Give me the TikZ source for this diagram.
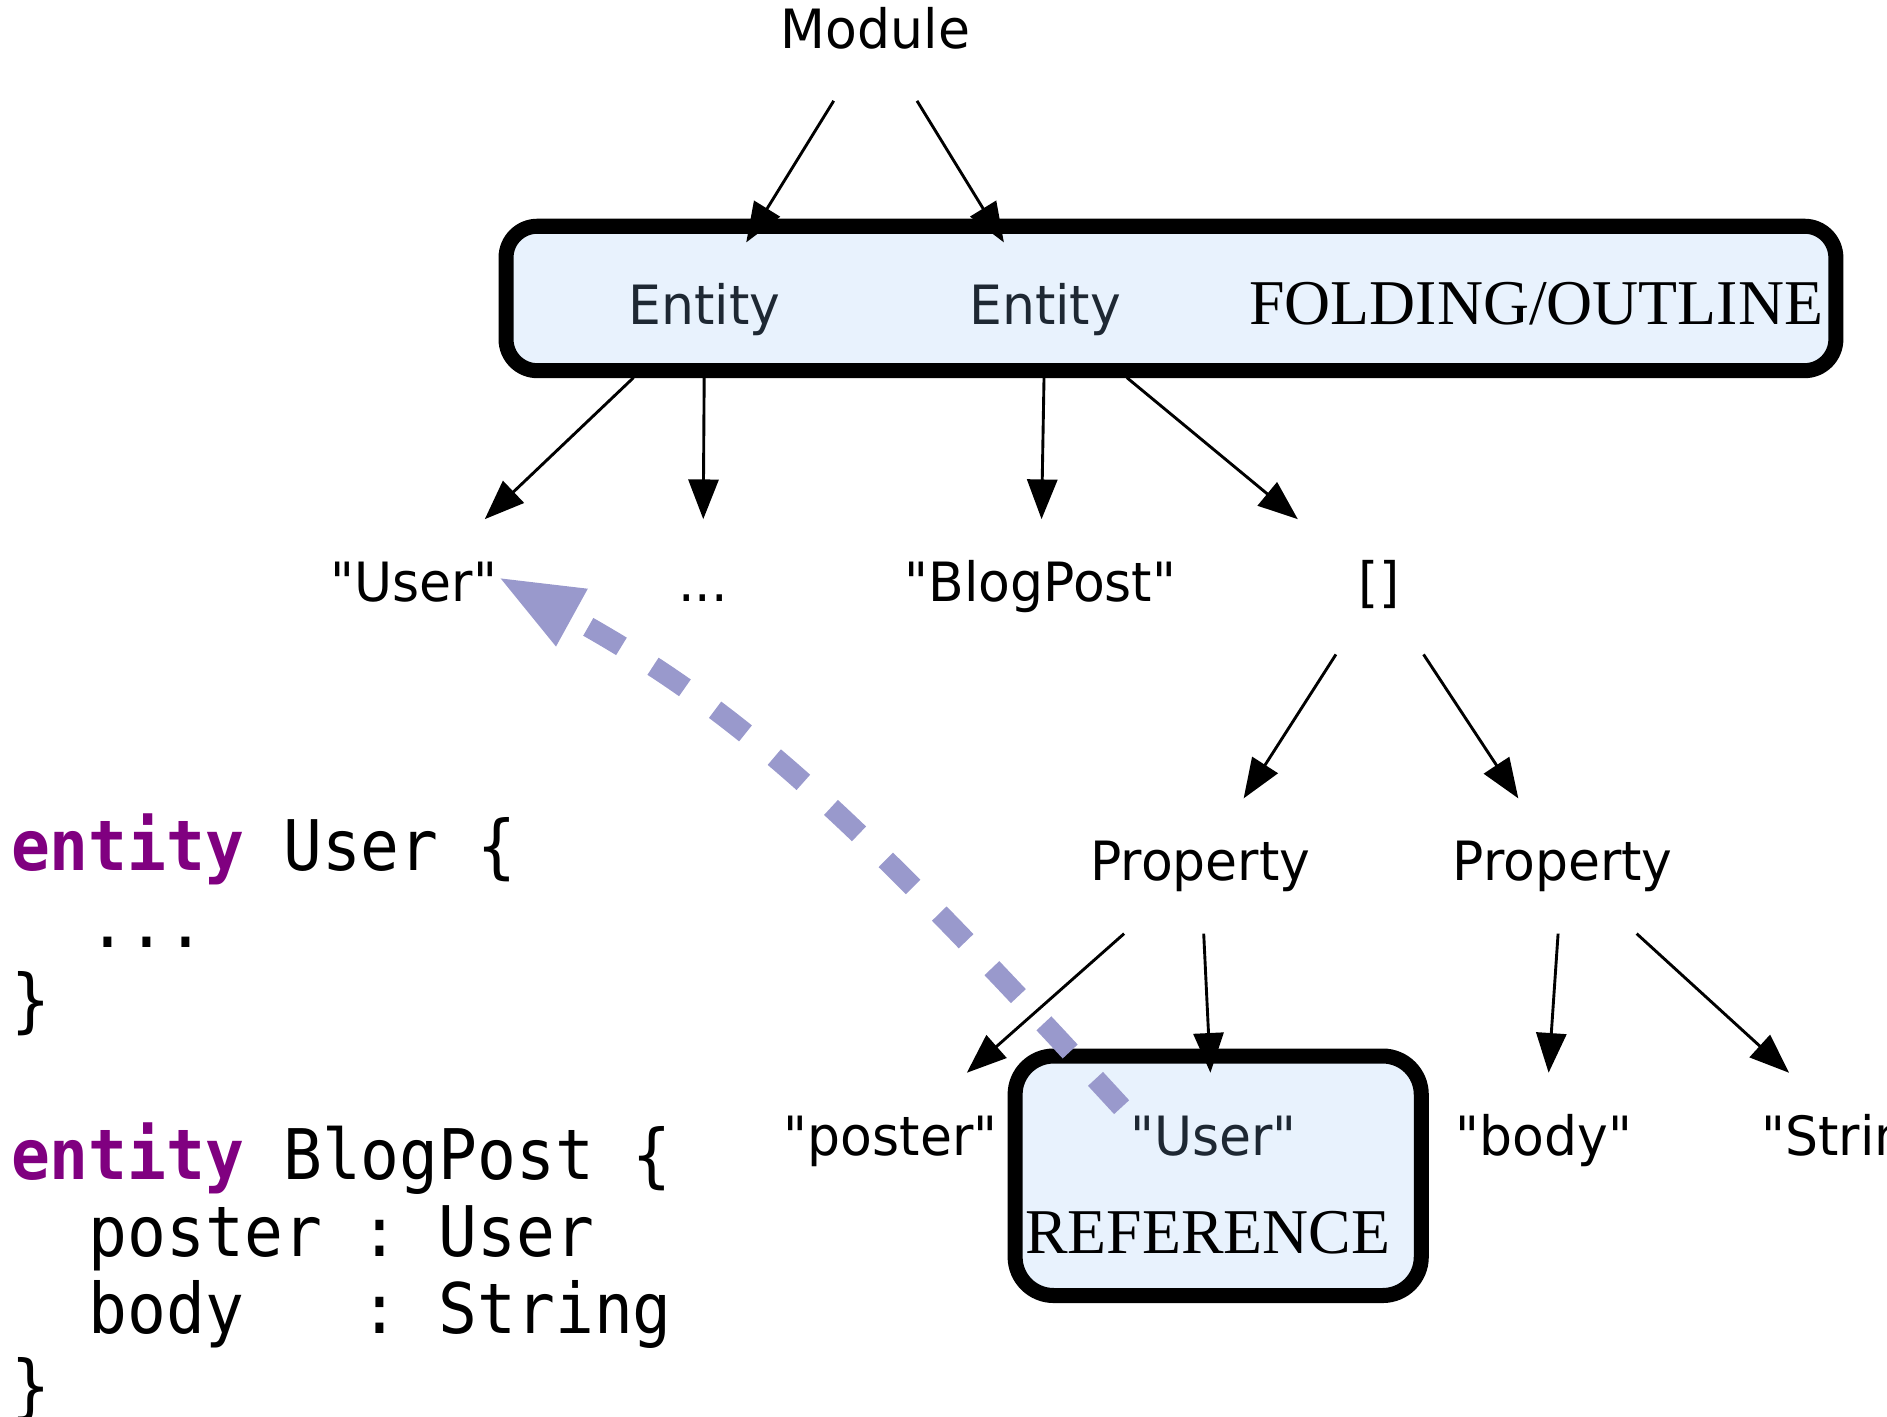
\documentclass[tikz,border=0pt]{standalone}
\usepackage{fontspec}
\usetikzlibrary{arrows.meta}
\newfontfamily\treefont[FakeStretch=0.96]{DejaVu Sans}
\newfontfamily\codefont[FakeStretch=0.925]{DejaVu Sans Mono}
\newfontfamily\tagfont{Liberation Serif}
\definecolor{boxfill}{HTML}{E8F2FD}
\definecolor{kwpurple}{HTML}{800080}
\definecolor{reflink}{HTML}{9999CC}
\definecolor{inktext}{HTML}{1E2833}
\newcommand\kw[1]{{\bfseries\color{kwpurple}#1}}
\newcommand\csp{\phantom{x}}

\begin{document}
\begin{tikzpicture}[x=1pt,y=-1pt,
  tn/.style={font=\treefont\fontsize{45pt}{54pt}\selectfont,
    text height=32.8pt, text depth=8pt, minimum height=112pt,
    minimum width=150pt, inner sep=0pt, anchor=base},
  tag/.style={font=\tagfont\fontsize{53pt}{60pt}\selectfont, inner sep=0pt, anchor=base},
  code/.style={font=\codefont\fontsize{58pt}{64pt}\selectfont, inner sep=0pt, anchor=base west},
  frame/.style={draw, line width=12.5pt, fill=boxfill, inner sep=0pt},
  edge/.style={-{Triangle[length=33pt,width=25pt]}, line width=2.4pt},
  reflinkstyle/.style={-{Triangle[length=71pt,width=49pt]}, draw=reflink,
    line width=17pt, dash pattern=on 32pt off 31pt}]

\useasboundingbox (0,0) rectangle (1568,1177);
\clip (0,0) rectangle (1568,1177);

% highlighted regions
\node (fold) [frame, rounded corners=26pt, minimum width=1105pt, minimum height=120pt] at (973,248) {};
\node (refbox) [frame, rounded corners=32pt, minimum width=337.5pt, minimum height=199pt] at (1012.25,977) {};

% syntax tree
\node (module) [tn] at (727.5,40) {Module};
\node (entA) [tn, text=inktext] at (585.5,270) {Entity};
\node (entB) [tn, text=inktext] at (868.5,270) {Entity};
\node (foldtag) [tag] at (1276.5,270) {FOLDING/OUTLINE};

\node (user) [tn] at (344,500) {"User"};
\node (dots) [tn] at (584,500) {...};
\node (blogpost) [tn] at (864.5,500) {"BlogPost"};
\node (list) [tn] at (1146,500) {[]};

\node (propA) [tn] at (997.5,732) {Property};
\node (propB) [tn] at (1298.5,732) {Property};

\node (poster) [tn] at (740,960) {"poster"};
\node (refuser) [tn, text=inktext] at (1008.5,960) {"User"};
\node (body) [tn] at (1283,960) {"body"};
\node (string) [tn] at (1548,960) {"String"};
\node (reftag) [tag] at (1003.5,1041.5) {REFERENCE};

\draw[edge] (module) -- (entA);
\draw[edge] (module) -- (entB);
\draw[edge] (entA) -- (user);
\draw[edge] (entA) -- (dots);
\draw[edge] (entB) -- (blogpost);
\draw[edge] (entB) -- (list);
\draw[edge] (list) -- (propA);
\draw[edge] (list) -- (propB);
\draw[edge] (propA) -- (poster);
\draw[edge] (propA) -- (refuser);
\draw[edge] (propB) -- (body);
\draw[edge] (propB) -- (string);

% source code
\node (code1) [code] at (9,723.5) {\kw{entity}\csp User\csp\{};
\node (code2) [code] at (9,787.6) {\csp\csp...};
\node (code3) [code] at (9,851.7) {\}};
\node (code4) [code] at (9,979.9) {\kw{entity}\csp BlogPost\csp\{};
\node (code5) [code] at (9,1044) {\csp\csp poster\csp:\csp User};
\node (code6) [code] at (9,1108.1) {\csp\csp body\csp\csp\csp:\csp String};
\node (code7) [code] at (9,1172.2) {\}};

% resolved reference
\draw[reflinkstyle] ([shift={(-76.5,-27.6)}]refuser.center)
  .. controls +(-230,-250) and +(200,110) .. ([shift={(69,-8.6)}]user.center);

\end{tikzpicture}
\end{document}
